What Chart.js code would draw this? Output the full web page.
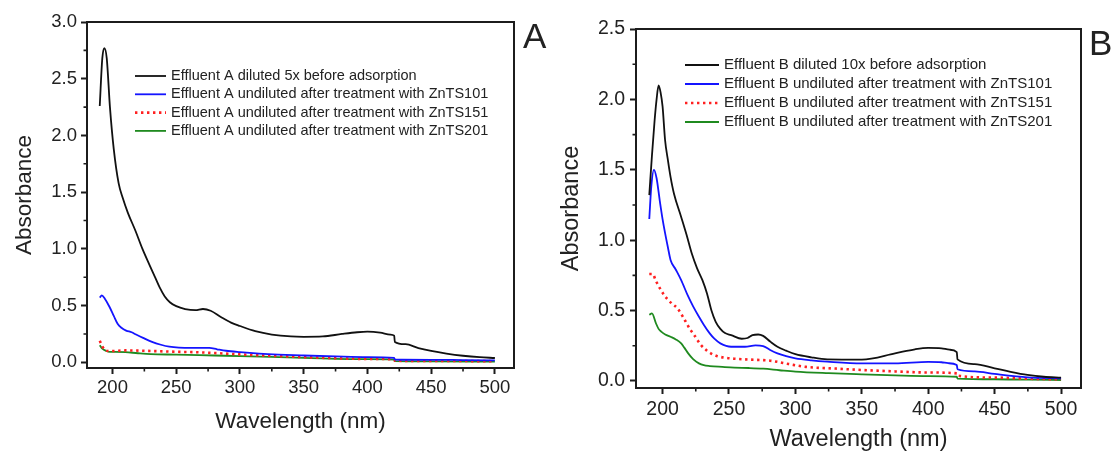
<!DOCTYPE html>
<html>
<head>
<meta charset="utf-8">
<script src="https://cdn.jsdelivr.net/npm/chart.js@4.4.0/dist/chart.umd.min.js"></script>
<style>
    html, body { margin: 0; padding: 0; background: #fff; }
    #wrap { position: relative; width: 1115px; height: 457px; }
    #chart-a { position: absolute; left: 0; top: 0; }
    #chart-b { position: absolute; left: 557px; top: 0; }
</style>
</head>
<body>
<div id="wrap">
    <canvas id="chart-a" width="557" height="457"></canvas>
    <canvas id="chart-b" width="558" height="457"></canvas>
</div>
<script>
(function () {
    "use strict";

    // Tick labels
    const xTicks = [200, 250, 300, 350, 400, 450, 500];
    const yTicksA = [0, 0.5, 1.0, 1.5, 2.0, 2.5, 3.0];
    const yTicksB = [0, 0.5, 1.0, 1.5, 2.0, 2.5];

    const labelsA = [
        "Effluent A diluted 5x before adsorption",
        "Effluent A undiluted after treatment with ZnTS101",
        "Effluent A undiluted after treatment with ZnTS151",
        "Effluent A undiluted after treatment with ZnTS201",
    ];
    const labelsB = [
        "Effluent B diluted 10x before adsorption",
        "Effluent B undiluted after treatment with ZnTS101",
        "Effluent B undiluted after treatment with ZnTS151",
        "Effluent B undiluted after treatment with ZnTS201",
    ];

    // Panel A spectra (wavelength nm / absorbance)
    const aBlackWl = [190, 192, 193.6, 195.5, 198, 201, 204.8, 208, 212, 218, 223.5, 229, 233, 237, 241, 245, 250, 257, 265, 271, 277, 285, 293, 300, 312, 325, 340, 350, 365, 380, 392, 400, 410, 418, 421, 421.5, 430, 440, 450, 462, 475, 488, 500];
    const aBlackAbs = [2.26, 2.68, 2.77, 2.68, 2.25, 1.88, 1.58, 1.45, 1.32, 1.16, 1.0, 0.86, 0.76, 0.66, 0.58, 0.53, 0.495, 0.47, 0.46, 0.47, 0.455, 0.4, 0.35, 0.32, 0.275, 0.245, 0.228, 0.225, 0.228, 0.25, 0.265, 0.27, 0.262, 0.245, 0.235, 0.18, 0.16, 0.125, 0.1, 0.077, 0.058, 0.045, 0.038];
    const aBlueWl = [190, 191.6, 194, 197.6, 201, 204, 207, 210.7, 215, 218.5, 224, 231, 238, 244.6, 252, 262.9, 270, 276, 282, 289, 300, 315, 330, 350, 375, 400, 421, 421.5, 450, 475, 500];
    const aBlueAbs = [0.57, 0.59, 0.56, 0.49, 0.41, 0.34, 0.305, 0.28, 0.265, 0.245, 0.215, 0.18, 0.155, 0.138, 0.13, 0.128, 0.128, 0.127, 0.115, 0.102, 0.09, 0.077, 0.068, 0.06, 0.052, 0.046, 0.04, 0.025, 0.022, 0.02, 0.018];
    const aRedWl = [190, 192, 194, 197, 200, 210, 230, 250, 263, 280, 300, 330, 360, 400, 421, 421.5, 450, 500];
    const aRedAbs = [0.19, 0.14, 0.11, 0.1, 0.1, 0.105, 0.1, 0.093, 0.09, 0.082, 0.07, 0.055, 0.042, 0.03, 0.026, 0.014, 0.012, 0.01];
    const aGreenWl = [190, 192, 195, 198, 202, 210, 220, 230, 250, 280, 300, 350, 400, 421, 421.5, 450, 500];
    const aGreenAbs = [0.15, 0.12, 0.1, 0.092, 0.093, 0.09, 0.08, 0.072, 0.068, 0.06, 0.055, 0.04, 0.028, 0.024, 0.01, 0.008, 0.006];

    // Panel B spectra
    const bBlackWl = [190, 192, 194, 195.5, 197, 198.5, 200, 201.9, 204, 206, 208.6, 214, 218, 222, 226, 230, 233.5, 236.8, 240, 243.5, 247, 251.6, 259.6, 264, 267.7, 272, 275.7, 281, 286.5, 293, 300, 312, 324, 350, 375, 390, 400, 410, 416, 421.5, 422, 435, 450, 462, 474.7, 487, 500];
    const bBlackAbs = [1.32, 1.6, 1.85, 2.0, 2.1, 2.05, 1.95, 1.71, 1.57, 1.45, 1.33, 1.165, 1.04, 0.905, 0.8, 0.716, 0.62, 0.5, 0.42, 0.37, 0.34, 0.326, 0.3, 0.305, 0.325, 0.33, 0.32, 0.28, 0.243, 0.215, 0.19, 0.168, 0.154, 0.152, 0.196, 0.225, 0.235, 0.232, 0.222, 0.205, 0.153, 0.12, 0.09, 0.065, 0.043, 0.03, 0.024];
    const bBlueWl = [190, 191.5, 193.5, 195.5, 197.9, 200, 201.9, 204, 206, 210, 214, 219.3, 223, 227.4, 231, 235.5, 239, 243.5, 251.6, 262, 270, 275.7, 281, 286.5, 293, 300, 312, 324, 350, 375, 400, 410, 415, 421.5, 422, 435, 450, 474.7, 500];
    const bBlueAbs = [1.15, 1.38, 1.5, 1.44, 1.28, 1.15, 1.05, 0.95, 0.86, 0.79, 0.716, 0.6, 0.53, 0.456, 0.4, 0.338, 0.3, 0.267, 0.243, 0.243, 0.253, 0.248, 0.22, 0.196, 0.176, 0.16, 0.146, 0.137, 0.125, 0.125, 0.135, 0.133, 0.126, 0.113, 0.083, 0.068, 0.05, 0.026, 0.019];
    const bRedWl = [190, 192.5, 195, 197.9, 200.5, 203.2, 207, 211.3, 216.7, 220.5, 224.7, 228.5, 232.8, 236.5, 240.8, 247, 254, 265, 281, 295, 308, 330, 350, 375, 400, 421.5, 422, 450, 475, 500];
    const bRedAbs = [0.76, 0.76, 0.71, 0.66, 0.62, 0.586, 0.55, 0.515, 0.433, 0.37, 0.314, 0.26, 0.22, 0.195, 0.177, 0.165, 0.158, 0.152, 0.144, 0.12, 0.1, 0.088, 0.078, 0.068, 0.06, 0.054, 0.038, 0.024, 0.016, 0.012];
    const bGreenWl = [190, 192, 195, 197, 199, 202, 206, 210, 214, 216.5, 219.3, 223, 227.4, 231, 235.5, 245, 254, 265, 275.7, 288, 300, 325, 350, 375, 400, 421.5, 422, 450, 475, 500];
    const bGreenAbs = [0.47, 0.48, 0.41, 0.37, 0.35, 0.33, 0.314, 0.295, 0.267, 0.235, 0.196, 0.155, 0.125, 0.112, 0.106, 0.1, 0.095, 0.092, 0.087, 0.076, 0.066, 0.055, 0.047, 0.04, 0.035, 0.03, 0.017, 0.012, 0.009, 0.007];

    const seriesColors = ["#111111", "#1414ff", "#ff2020", "#1f8a1f"];
    const fontFamily = "'Liberation Sans', Arial, sans-serif";
    const ink = "#1c1c1c";

    const pairs = (wl, abs) => wl.map((x, i) => ({ x: x, y: abs[i] }));

    const makeDatasets = (labels, series) =>
        series.map((s, i) => ({
            label: labels[i],
            data: pairs(s[0], s[1]),
            borderColor: seriesColors[i],
            borderWidth: i === 2 ? 2.6 : 1.8,
            borderDash: i === 2 ? [2.4, 3.6] : [],
            pointRadius: 0,
            cubicInterpolationMode: "monotone",
            fill: false,
        }));

    // Box, minor ticks, panel letter and inside legend
    const panelDecor = {
        id: "panelDecor",
        afterDatasetsDraw(chart, args, o) {
            const { ctx, chartArea: a } = chart;
            const xs = chart.scales.x;
            const ys = chart.scales.y;
            ctx.save();
            ctx.strokeStyle = ink;
            ctx.lineWidth = 2;
            ctx.strokeRect(a.left, a.top, a.right - a.left, a.bottom - a.top);

            ctx.lineWidth = 1.6;
            ctx.beginPath();
            for (let i = 0; i < xTicks.length - 1; i++) {
                const px = xs.getPixelForValue((xTicks[i] + xTicks[i + 1]) / 2);
                ctx.moveTo(px, a.bottom);
                ctx.lineTo(px, a.bottom + 3.5);
            }
            for (let i = 0; i < o.yTicks.length - 1; i++) {
                const py = ys.getPixelForValue((o.yTicks[i] + o.yTicks[i + 1]) / 2);
                ctx.moveTo(a.left, py);
                ctx.lineTo(a.left - 3.5, py);
            }
            ctx.stroke();

            ctx.fillStyle = "#222";
            ctx.font = o.letterSize + "px " + fontFamily;
            ctx.textBaseline = "middle";
            ctx.textAlign = "left";
            ctx.fillText(o.letter, o.letterX, o.letterY);

            ctx.font = o.legendSize + "px " + fontFamily;
            chart.data.datasets.forEach((ds, i) => {
                const y = o.legendY + i * o.legendStep;
                ctx.beginPath();
                ctx.strokeStyle = ds.borderColor;
                ctx.lineWidth = ds.borderWidth;
                ctx.setLineDash(ds.borderDash);
                ctx.moveTo(o.sampleX1, y);
                ctx.lineTo(o.sampleX2, y);
                ctx.stroke();
                ctx.setLineDash([]);
                ctx.fillStyle = "#222";
                ctx.fillText(ds.label, o.textX, y);
            });
            ctx.restore();
        },
    };

    const makeChart = (id, datasets, yTicks, yMax, cfg) =>
        new Chart(document.getElementById(id).getContext("2d"), {
            type: "line",
            data: { datasets: datasets },
            plugins: [panelDecor],
            options: {
                responsive: false,
                animation: false,
                layout: { padding: { left: 0, top: cfg.top, right: cfg.right, bottom: 0 } },
                plugins: {
                    legend: { display: false },
                    tooltip: { enabled: false },
                    panelDecor: Object.assign({ yTicks: yTicks }, cfg.decor),
                },
                scales: {
                    x: {
                        type: "linear",
                        min: 180,
                        max: 515,
                        afterFit: (s) => { s.height = cfg.xHeight; },
                        afterBuildTicks: (s) => { s.ticks = xTicks.map((v) => ({ value: v })); },
                        grid: { drawOnChartArea: false, drawTicks: true, tickLength: 6, tickWidth: 2, tickColor: ink },
                        border: { display: false },
                        ticks: {
                            autoSkip: false,
                            maxRotation: 0,
                            padding: cfg.xTickPad,
                            color: "#222",
                            font: { family: fontFamily, size: cfg.tickSize },
                            callback: (v) => String(v),
                        },
                        title: {
                            display: true,
                            text: "Wavelength (nm)",
                            color: "#222",
                            font: { family: fontFamily, size: cfg.titleSize },
                            padding: { top: 0, bottom: cfg.xTitlePad },
                        },
                    },
                    y: {
                        type: "linear",
                        min: -0.05,
                        max: yMax,
                        afterFit: (s) => { s.width = cfg.yWidth; },
                        afterBuildTicks: (s) => { s.ticks = yTicks.map((v) => ({ value: v })); },
                        grid: { drawOnChartArea: false, drawTicks: true, tickLength: 6, tickWidth: 2, tickColor: ink },
                        border: { display: false },
                        ticks: {
                            autoSkip: false,
                            padding: cfg.yTickPad,
                            color: "#222",
                            font: { family: fontFamily, size: cfg.tickSize },
                            callback: (v) => v.toFixed(1),
                        },
                        title: {
                            display: true,
                            text: "Absorbance",
                            color: "#222",
                            font: { family: fontFamily, size: cfg.titleSize },
                            padding: { top: cfg.yTitlePad, bottom: 0 },
                        },
                    },
                },
            },
        });

    makeChart("chart-a", makeDatasets(labelsA, [
        [aBlackWl, aBlackAbs],
        [aBlueWl, aBlueAbs],
        [aRedWl, aRedAbs],
        [aGreenWl, aGreenAbs],
    ]), yTicksA, 3.0, {
        top: 22, right: 43, xHeight: 89, yWidth: 87,
        tickSize: 18.5, titleSize: 22.5,
        xTickPad: 3, yTickPad: 4, xTitlePad: 21.5, yTitlePad: 11.5,
        decor: {
            letter: "A", letterX: 523, letterY: 38, letterSize: 35,
            legendSize: 14.5, legendY: 76, legendStep: 18.3,
            sampleX1: 135, sampleX2: 166, textX: 171,
        },
    });

    makeChart("chart-b", makeDatasets(labelsB, [
        [bBlackWl, bBlackAbs],
        [bBlueWl, bBlueAbs],
        [bRedWl, bRedAbs],
        [bGreenWl, bGreenAbs],
    ]), yTicksB, 2.5, {
        top: 29, right: 34, xHeight: 69, yWidth: 79,
        tickSize: 19.5, titleSize: 23.5,
        xTickPad: 4, yTickPad: 5, xTitlePad: 3, yTitlePad: 0,
        decor: {
            letter: "B", letterX: 532, letterY: 45, letterSize: 35,
            legendSize: 15, legendY: 65, legendStep: 19,
            sampleX1: 128, sampleX2: 162, textX: 167,
        },
    });
})();
</script>
</body>
</html>
